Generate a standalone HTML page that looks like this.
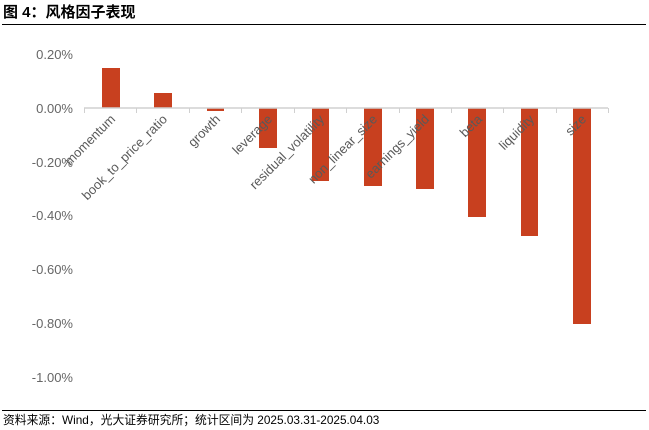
<!DOCTYPE html>
<html><head><meta charset="utf-8"><style>
body{margin:0;background:#fff;width:649px;height:430px;overflow:hidden;font-family:"Liberation Sans","Noto Sans CJK SC",sans-serif;}
</style></head><body>
<svg width="649" height="430" xmlns="http://www.w3.org/2000/svg" style="position:absolute;left:0;top:0">
<text x="3" y="17" font-size="15" font-weight="bold" fill="#000" font-family="Liberation Sans,Noto Sans CJK SC,sans-serif">图 4：风格因子表现</text>
<line x1="2" y1="24.5" x2="646" y2="24.5" stroke="#000" stroke-width="1"/>
<g font-size="13" fill="#666" text-anchor="end" font-family="Liberation Sans,sans-serif">
<text x="73" y="59">0.20%</text>
<text x="73" y="113">0.00%</text>
<text x="73" y="167">-0.20%</text>
<text x="73" y="220">-0.40%</text>
<text x="73" y="274">-0.60%</text>
<text x="73" y="328">-0.80%</text>
<text x="73" y="382">-1.00%</text>
</g>
<g fill="#C8401F">
<rect x="102" y="68" width="18" height="40"/>
<rect x="154" y="93" width="18" height="15"/>
<rect x="207" y="108" width="17" height="3"/>
<rect x="259" y="108" width="18" height="40"/>
<rect x="312" y="108" width="17" height="73"/>
<rect x="364" y="108" width="18" height="78"/>
<rect x="416" y="108" width="18" height="81"/>
<rect x="468" y="108" width="18" height="109"/>
<rect x="521" y="108" width="17" height="128"/>
<rect x="573" y="108" width="18" height="216"/>
</g>
<line x1="84" y1="108" x2="608" y2="108" stroke="#d0d0d0" stroke-width="1.5"/>
<g stroke="#d0d0d0" stroke-width="1">
<line x1="84.5" y1="108" x2="84.5" y2="113"/><line x1="136.5" y1="108" x2="136.5" y2="113"/>
<line x1="189.5" y1="108" x2="189.5" y2="113"/><line x1="241.5" y1="108" x2="241.5" y2="113"/>
<line x1="294.5" y1="108" x2="294.5" y2="113"/><line x1="346.5" y1="108" x2="346.5" y2="113"/>
<line x1="399.5" y1="108" x2="399.5" y2="113"/><line x1="451.5" y1="108" x2="451.5" y2="113"/>
<line x1="503.5" y1="108" x2="503.5" y2="113"/><line x1="556.5" y1="108" x2="556.5" y2="113"/>
<line x1="608.5" y1="108" x2="608.5" y2="113"/>
</g>
<g font-size="13" fill="#595959" text-anchor="end" font-family="Liberation Sans,sans-serif">
<text transform="translate(116,120) rotate(-45)">momentum</text>
<text transform="translate(168,120) rotate(-45)">book_to_price_ratio</text>
<text transform="translate(221,120) rotate(-45)">growth</text>
<text transform="translate(273,120) rotate(-45)">leverage</text>
<text transform="translate(325,120) rotate(-45)">residual_volatility</text>
<text transform="translate(378,120) rotate(-45)">non_linear_size</text>
<text transform="translate(430,120) rotate(-45)">earnings_yield</text>
<text transform="translate(483,120) rotate(-45)">beta</text>
<text transform="translate(535,120) rotate(-45)">liquidity</text>
<text transform="translate(587,120) rotate(-45)">size</text>
</g>
<line x1="2" y1="410.5" x2="646" y2="410.5" stroke="#000" stroke-width="1"/>
<text x="3" y="424" font-size="11.8" fill="#000" font-family="Liberation Sans,Noto Sans CJK SC,sans-serif">资料来源：Wind，光大证券研究所；统计区间为 2025.03.31-2025.04.03</text>
</svg>
</body></html>
